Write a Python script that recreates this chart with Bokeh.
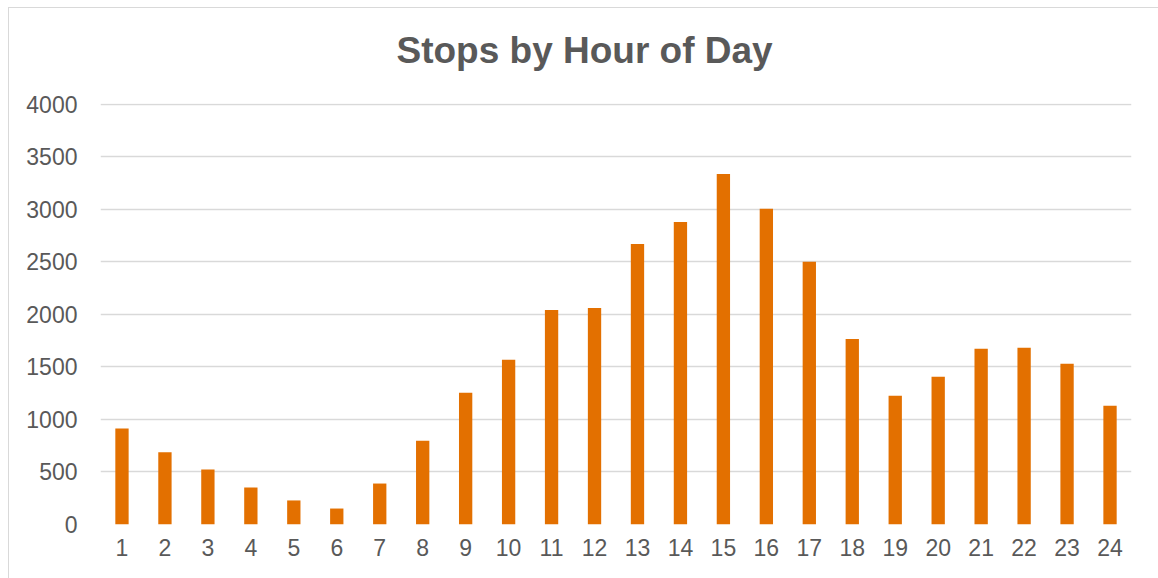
from bokeh.plotting import figure
from bokeh.embed import file_html
from bokeh.resources import INLINE
from bokeh.models import Range1d, SingleIntervalTicker, ColumnDataSource, Title

hours = [str(h) for h in range(1, 25)]
stops = [914, 689, 524, 352, 229, 152, 390, 798, 1254, 1568, 2043, 2062,
         2670, 2879, 3337, 3005, 2502, 1767, 1226, 1406, 1672, 1682, 1530, 1130]
title_text = "Stops by Hour of Day"

source = ColumnDataSource(data=dict(hour=hours, stops=stops))

p = figure(x_range=hours, y_range=Range1d(0, 4008), width=1150, height=571,
           output_backend="svg", toolbar_location=None,
           min_border_left=91, min_border_right=28, min_border_top=95, min_border_bottom=55)

p.vbar(x="hour", top="stops", width=0.31, source=source, color="#E37000", line_color=None)

p.title.text = title_text
p.title.align = "left"
p.title.offset = 296
p.title.standoff = 0
p.title.text_font = "Liberation Sans"
p.title.text_font_size = "37px"
p.title.text_font_style = "bold"
p.title.text_color = "#595959"

# empty spacer between the title and the plot area
spacer = Title(text=" ", text_font_size="10px", standoff=20)
p.add_layout(spacer, "above")

p.yaxis.ticker = SingleIntervalTicker(interval=500)
for ax in (p.xaxis[0], p.yaxis[0]):
    ax.axis_line_color = None
    ax.major_tick_line_color = None
    ax.minor_tick_line_color = None
    ax.major_tick_out = 0
    ax.major_tick_in = 0
    ax.minor_tick_out = 0
    ax.major_label_text_font = "Liberation Sans"
    ax.major_label_text_font_size = "23px"
    ax.major_label_text_color = "#595959"
p.yaxis.major_label_standoff = 23
p.xaxis.major_label_standoff = 14

p.xgrid.grid_line_color = None
p.ygrid.grid_line_color = "#D9D9D9"
p.ygrid.grid_line_width = 1.5
p.outline_line_color = None
p.x_range.range_padding = 0.0
p.styles = {"margin-left": "8px", "margin-top": "7px",
            "border-left": "1px solid #D9D9D9", "border-top": "1px solid #D9D9D9"}

open("out.html", "w").write(file_html(p, INLINE))
